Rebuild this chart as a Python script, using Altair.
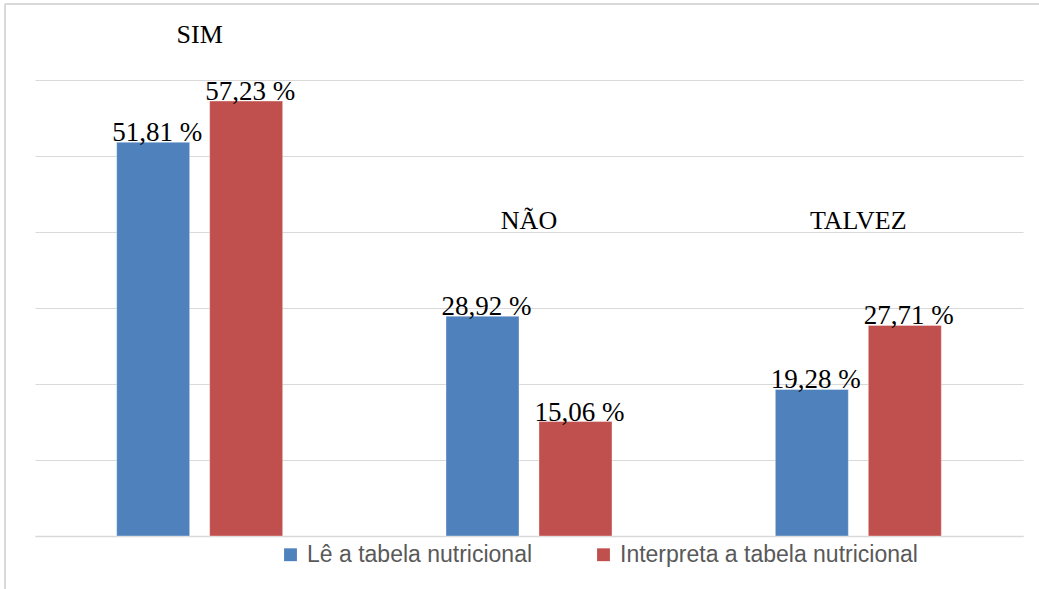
import altair as alt
import pandas as pd

categories = ["SIM", "NÃO", "TALVEZ"]
series_names = ["Lê a tabela nutricional", "Interpreta a tabela nutricional"]
le_values = [51.81, 28.92, 19.28]
interpreta_values = [57.23, 15.06, 27.71]
category_label_levels = [64.9, 40.4, 40.4]
grid_values = [0, 10, 20, 30, 40, 50, 60]
colors = ["#4F81BD", "#C0504D"]

rows = []
for c, a, b in zip(categories, le_values, interpreta_values):
    rows.append({"cat": c, "serie": series_names[0], "valor": a})
    rows.append({"cat": c, "serie": series_names[1], "valor": b})
df = pd.DataFrame(rows)
df["rotulo"] = df["valor"].map(lambda v: f"{v:.2f}".replace(".", ",") + " %")

cat_df = pd.DataFrame({"cat": categories, "nivel": category_label_levels})

x_scale = alt.Scale(domain=categories, paddingInner=0.496, paddingOuter=0.248)
y_scale = alt.Scale(domain=[0, 70], nice=False, zero=True)

x_enc = alt.X("cat:N", sort=categories, scale=x_scale,
              axis=alt.Axis(labels=False, ticks=False, title=None, grid=False,
                            domainColor="#D9D9D9", domainWidth=1.5))
y_enc = alt.Y("valor:Q", scale=y_scale,
              axis=alt.Axis(values=grid_values, labels=False, ticks=False, domain=False,
                            title=None, gridColor="#D9D9D9", gridWidth=1.2))
xoff = alt.XOffset("serie:N", sort=series_names,
                   scale=alt.Scale(domain=series_names, paddingInner=0.215, paddingOuter=0))
color = alt.Color("serie:N", sort=series_names,
                  scale=alt.Scale(domain=series_names, range=colors),
                  legend=alt.Legend(orient="none", legendX=244, legendY=539,
                                    direction="horizontal", symbolType="square",
                                    symbolSize=165, symbolStrokeWidth=0,
                                    labelFont="Liberation Sans", labelFontSize=23,
                                    labelColor="#595959", labelLimit=500,
                                    labelOffset=5, columnPadding=59, padding=0,
                                    title=None))

bars = alt.Chart(df).mark_bar(stroke="white", strokeWidth=0.6, strokeOpacity=0.6).encode(
    x=x_enc, y=y_enc, xOffset=xoff, color=color
)

value_labels = alt.Chart(df).mark_text(
    font="Liberation Serif", fontSize=27, color="black", baseline="alphabetic", dy=-1, dx=4
).encode(
    x=alt.X("cat:N", sort=categories, scale=x_scale),
    y=alt.Y("valor:Q", scale=y_scale),
    xOffset=xoff,
    text="rotulo:N",
)

cat_labels = alt.Chart(cat_df).mark_text(
    font="Liberation Serif", fontSize=26, color="black", baseline="alphabetic"
).encode(
    x=alt.X("cat:N", sort=categories, scale=x_scale),
    y=alt.Y("nivel:Q", scale=y_scale),
    text="cat:N",
)

border_left = alt.Chart(df).mark_rule(color="#D9D9D9", strokeWidth=1.5).encode(
    x=alt.value(-30), y=alt.value(0), y2=alt.value(585)
)
border_top = alt.Chart(df).mark_rule(color="#D9D9D9", strokeWidth=1.5).encode(
    x=alt.value(-30), x2=alt.value(1004), y=alt.value(0)
)

chart = alt.layer(bars, value_labels, cat_labels, border_left, border_top).properties(
    width=988, height=532,
    autosize=alt.AutoSizeParams(type="none"),
    padding={"left": 35, "top": 4, "right": 16, "bottom": 53},
).configure(background="white", view=alt.ViewConfig(stroke=None))

chart.save("out.html", embed_options={"renderer": "svg", "actions": False})
